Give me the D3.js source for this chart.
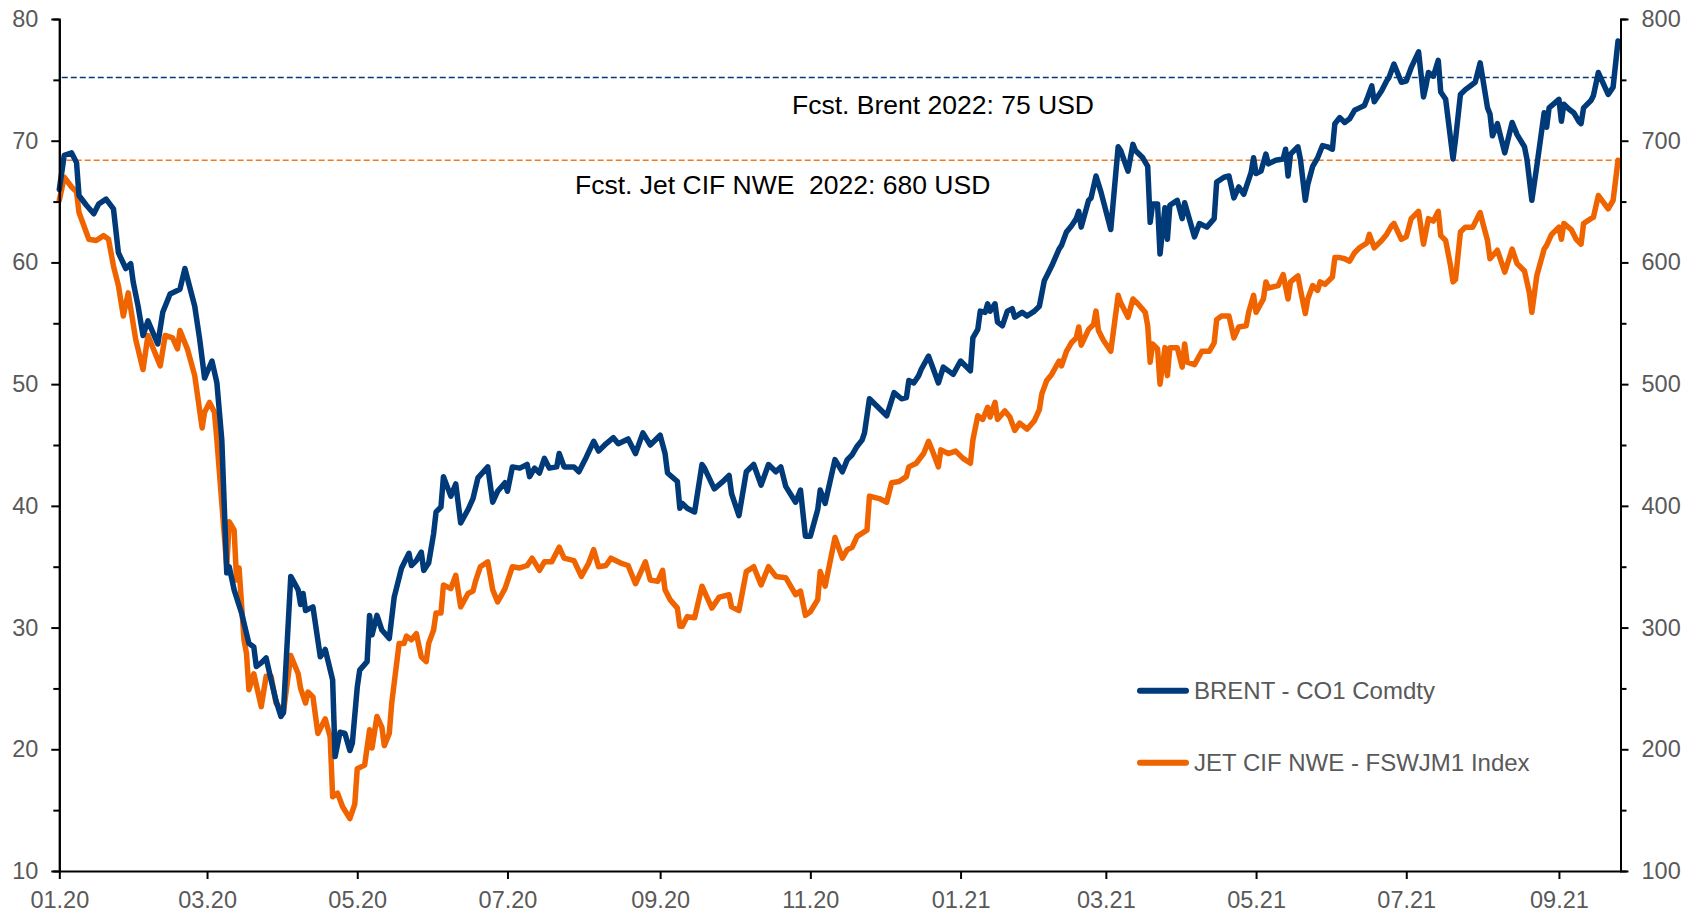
<!doctype html>
<html lang="en">
  <head>
    <meta charset="utf-8">
    <title>Brent vs Jet CIF NWE</title>
    <style>
      body { margin: 0; background: #fff; }
      svg { display: block; font-family: "Liberation Sans", Arial, sans-serif; }
    </style>
  </head>
  <body>
    <div id="chart"></div>
    <script src="https://d3js.org/d3.v7.min.js"></script>
    <script>
    // days since 1 Jan 2020, value
    var brent = [
      [0,66.0],[2,68.8],[5,69.0],[7,68.2],[8,65.5],[11,64.7],[14,64.0],[16,64.8],[19,65.2],[22,64.4],
      [24,60.8],[27,59.5],[29,59.9],[30,58.4],[32,56.4],[34,54.0],[36,55.2],[40,53.3],[42,55.9],[45,57.4],
      [49,57.8],[51,59.5],[55,56.4],[57,53.7],[59,50.5],[62,51.9],[64,50.1],[66,45.4],[68,34.5],[69,35.0],
      [71,33.1],[74,31.2],[77,28.7],[79,28.4],[80,26.8],[82,27.1],[84,27.5],[86,25.7],[88,24.0],[90,22.7],
      [91,23.0],[94,34.2],[97,33.1],[98,31.9],[99,32.8],[100,31.4],[103,31.7],[106,27.6],[108,28.2],[111,25.7],
      [112,19.4],[114,21.4],[116,21.3],[118,19.9],[119,20.5],[121,25.1],[122,26.5],[125,27.2],[126,31.0],[127,29.4],
      [129,31.0],[131,29.8],[134,29.1],[136,32.5],[139,34.9],[140,35.3],[142,36.1],[143,35.1],[145,35.5],[147,36.2],
      [148,34.7],[150,35.3],[152,37.7],[153,39.5],[155,39.9],[156,42.4],[159,40.8],[161,41.8],[163,38.6],[166,39.7],
      [168,40.6],[170,42.3],[174,43.2],[176,40.3],[178,41.2],[181,41.9],[182,41.2],[184,43.2],[187,43.1],[190,43.4],
      [191,42.4],[193,43.1],[195,42.7],[197,43.9],[199,43.1],[202,43.2],[203,44.3],[205,43.2],[209,43.2],[211,42.8],
      [214,44.0],[217,45.3],[219,44.5],[222,45.1],[225,45.6],[227,45.1],[231,45.5],[234,44.3],[237,46.0],[240,45.0],
      [244,45.8],[246,44.3],[247,42.7],[251,42.0],[252,39.8],[253,40.2],[255,39.8],[258,39.5],[261,43.4],[262,43.1],
      [266,41.4],[270,42.1],[272,42.5],[273,41.0],[276,39.2],[279,42.8],[282,43.4],[285,41.7],[288,43.4],[291,42.8],
      [293,43.2],[295,41.6],[299,40.3],[301,41.3],[303,37.5],[305,37.5],[308,39.7],[309,41.3],[311,40.2],[315,43.8],
      [318,42.8],[320,43.8],[322,44.2],[324,44.9],[326,45.4],[327,46.0],[329,48.8],[332,48.2],[336,47.4],[339,49.3],
      [342,48.8],[344,48.9],[345,50.3],[347,50.1],[349,50.7],[350,51.2],[353,52.3],[355,51.2],[357,50.1],[359,51.4],
      [363,50.8],[366,51.9],[370,51.1],[371,53.8],[373,54.5],[374,56.0],[376,55.9],[377,56.6],[378,56.0],[380,56.6],
      [381,55.1],[383,54.8],[385,56.0],[387,56.2],[388,55.5],[391,55.9],[393,55.6],[396,56.0],[398,56.4],[400,58.5],
      [403,59.7],[406,61.1],[407,61.4],[409,62.5],[411,63.0],[413,63.6],[414,64.2],[415,62.9],[418,65.1],[419,65.3],
      [421,67.1],[423,65.8],[427,62.7],[430,69.5],[431,69.2],[434,67.5],[436,69.7],[437,69.2],[440,68.6],[442,67.9],
      [443,63.3],[444,64.8],[446,64.8],[447,60.7],[449,64.5],[450,61.9],[451,64.7],[454,65.1],[456,63.6],[457,64.9],
      [461,62.1],[463,63.2],[466,62.9],[469,63.6],[470,66.6],[473,67.0],[475,67.1],[477,65.3],[479,66.2],[481,65.6],
      [484,67.4],[485,68.6],[486,67.3],[488,67.5],[490,68.9],[491,68.1],[494,68.4],[497,68.5],[498,69.3],[499,67.1],
      [500,68.9],[503,69.5],[504,68.5],[506,65.1],[507,66.4],[509,67.9],[511,68.6],[513,69.6],[515,69.5],[517,69.3],
      [518,71.4],[520,71.9],[522,71.5],[524,71.8],[526,72.5],[528,72.7],[530,72.9],[531,73.4],[533,74.5],[534,73.2],
      [537,74.1],[539,74.9],[540,75.2],[542,76.3],[545,74.8],[547,74.9],[549,76.0],[552,77.3],[554,73.6],[555,74.5],
      [556,75.6],[558,75.3],[560,76.6],[561,74.0],[563,73.4],[566,68.5],[567,70.1],[569,73.8],[571,74.2],[573,74.5],
      [575,74.8],[577,76.4],[578,75.2],[580,72.7],[581,72.2],[582,70.4],[584,71.4],[587,69.0],[590,71.5],[592,70.5],
      [595,69.5],[596,68.5],[598,65.1],[600,67.9],[603,72.3],[604,71.1],[605,72.7],[609,73.4],[610,71.6],[611,73.0],
      [613,72.6],[615,72.3],[617,71.6],[618,71.4],[619,72.7],[622,73.3],[623,73.7],[625,75.6],[629,73.8],[631,74.4],
      [633,78.2]
    ];

    // days since 1 Jan 2020, USD per tonne
    var jet = [
      [0,651],[2,670],[5,662],[7,658],[8,641],[12,619],[15,618],[18,622],[20,619],[22,597],
      [24,581],[26,556],[28,575],[31,537],[34,512],[36,540],[41,515],[43,540],[46,538],[48,529],
      [49,544],[52,529],[55,507],[58,464],[59,477],[61,485],[63,477],[64,454],[68,350],[69,387],
      [71,380],[72,339],[73,349],[75,290],[76,279],[77,249],[79,262],[82,235],[84,260],[86,260],
      [88,238],[91,230],[94,277],[97,262],[98,250],[100,238],[101,247],[103,243],[105,213],[108,225],
      [110,210],[111,161],[113,164],[115,153],[118,143],[120,155],[121,184],[124,187],[126,216],[127,201],
      [129,227],[131,218],[132,203],[134,213],[135,238],[138,287],[140,287],[141,293],[143,290],[145,295],
      [147,276],[149,272],[150,287],[152,298],[153,312],[155,312],[156,335],[159,332],[161,343],[163,317],
      [166,328],[168,330],[169,338],[171,350],[174,354],[176,331],[178,321],[181,332],[184,350],[187,349],
      [190,351],[192,357],[195,347],[197,354],[200,354],[203,366],[205,357],[209,355],[212,342],[215,353],
      [217,364],[219,350],[222,351],[224,357],[228,353],[231,351],[234,336],[238,354],[240,339],[243,338],
      [245,347],[246,331],[248,323],[251,316],[252,301],[253,301],[255,309],[258,308],[261,334],[263,325],
      [265,316],[268,325],[272,327],[273,317],[276,314],[279,346],[282,350],[285,335],[288,350],[291,342],
      [295,341],[299,327],[301,330],[303,310],[305,313],[308,323],[309,346],[311,334],[315,374],[318,357],
      [320,364],[322,366],[324,375],[328,380],[329,408],[333,406],[336,403],[338,419],[341,420],[344,424],
      [345,432],[348,435],[351,443],[353,453],[355,443],[357,432],[358,446],[361,443],[364,445],[367,439],
      [370,435],[371,454],[373,474],[375,471],[377,481],[378,473],[380,485],[381,471],[384,478],[386,473],
      [388,462],[390,468],[393,463],[396,470],[398,479],[399,492],[401,503],[403,508],[406,519],[407,515],
      [409,527],[411,534],[413,538],[414,547],[415,532],[418,545],[420,549],[421,560],[422,544],[424,536],
      [427,527],[430,573],[431,567],[434,555],[436,570],[438,566],[441,559],[442,548],[443,518],[444,533],
      [446,529],[447,500],[449,530],[450,507],[451,530],[454,530],[456,514],[457,533],[458,518],[461,516],
      [464,527],[467,527],[469,534],[470,553],[472,556],[475,556],[477,538],[479,547],[482,548],[483,559],
      [485,573],[486,559],[489,570],[490,584],[491,579],[495,581],[497,590],[499,570],[500,584],[503,589],
      [504,578],[506,558],[507,570],[509,581],[511,577],[512,584],[514,582],[517,588],[518,604],[520,604],
      [522,603],[524,601],[526,608],[528,612],[531,616],[532,623],[534,612],[537,618],[539,623],[541,630],
      [542,632],[545,619],[547,621],[549,636],[552,642],[554,615],[556,636],[558,634],[560,642],[561,622],
      [563,618],[565,597],[566,584],[567,586],[569,625],[571,629],[574,629],[577,641],[578,633],[580,618],
      [581,603],[584,610],[587,592],[590,611],[592,599],[595,593],[597,575],[598,559],[600,589],[603,611],
      [604,614],[606,623],[609,629],[610,619],[611,632],[614,627],[616,619],[618,615],[619,632],[622,636],
      [623,637],[625,655],[629,644],[631,651],[633,684]
    ];

    var seriesNames = ["BRENT - CO1 Comdty", "JET CIF NWE - FSWJM1 Index"];
    var leftTicks = [10, 20, 30, 40, 50, 60, 70, 80];
    var rightTicks = [100, 200, 300, 400, 500, 600, 700, 800];
    var monthTicks = ["2020-01-01","2020-03-01","2020-05-01","2020-07-01","2020-09-01","2020-11-01",
                      "2021-01-01","2021-03-01","2021-05-01","2021-07-01","2021-09-01"];
    // forecast labels and the level where the dashed line sits in the picture
    var brentForecast = 75, brentLine = 75.2;   // USD/bbl, left axis
    var jetForecast = 680, jetLine = 684;       // USD/t, right axis

    var width = 1699, height = 913;
    var blue = "#003A78", orange = "#F06400", grey = "#595959";

    var svg = d3.select("#chart").append("svg")
        .attr("width", width)
        .attr("height", height);

    var start = new Date(Date.UTC(2020, 0, 1));
    var day = function(n){ return d3.utcDay.offset(start, n); };

    var x = d3.scaleUtc()
        .domain([start, day(634)])
        .range([59.3, 1620.5]);
    var yL = d3.scaleLinear().domain([10, 80]).range([871, 19]);
    var yR = d3.scaleLinear().domain([100, 800]).range([871, 19]);

    // forecast lines
    svg.append("line")
      .attr("x1", x(day(1))).attr("x2", x(day(633)))
      .attr("y1", yL(brentLine)).attr("y2", yL(brentLine))
      .attr("stroke", blue).attr("stroke-width", 1.5).attr("stroke-dasharray", "6,3");
    svg.append("line")
      .attr("x1", x(day(3))).attr("x2", x(day(633)))
      .attr("y1", yR(jetLine)).attr("y2", yR(jetLine))
      .attr("stroke", "#F47A1F").attr("stroke-width", 1.5).attr("stroke-dasharray", "6,3");

    svg.append("text")
      .attr("x", 792).attr("y", 114)
      .attr("font-size", 26.5).attr("fill", "#000")
      .text("Fcst. Brent 2022: " + brentForecast + " USD");
    svg.append("text")
      .attr("x", 575).attr("y", 194)
      .attr("font-size", 26.5).attr("fill", "#000")
      .style("white-space", "pre")
      .text("Fcst. Jet CIF NWE  2022: " + jetForecast + " USD");

    // series
    var lineL = d3.line().x(function(d){ return x(day(d[0])); }).y(function(d){ return yL(d[1]); });
    var lineR = d3.line().x(function(d){ return x(day(d[0])); }).y(function(d){ return yR(d[1]); });

    svg.append("path").datum(jet)
      .attr("d", lineR)
      .attr("fill", "none").attr("stroke", orange).attr("stroke-width", 5.5)
      .attr("stroke-linejoin", "round").attr("stroke-linecap", "round");
    svg.append("path").datum(brent)
      .attr("d", lineL)
      .attr("fill", "none").attr("stroke", blue).attr("stroke-width", 5.5)
      .attr("stroke-linejoin", "round").attr("stroke-linecap", "round");

    // axes
    function styleAxis(g) {
      g.attr("font-family", null).attr("font-size", 23.5);
      g.select(".domain").attr("stroke", "#000").attr("stroke-width", 2);
      g.selectAll(".tick line").attr("stroke", "#000").attr("stroke-width", 2);
      g.selectAll(".tick text").attr("fill", grey);
    }

    svg.append("g")
      .attr("transform", "translate(59.3,0)")
      .call(d3.axisLeft(yL).tickValues([15,25,35,45,55,65,75]).tickSize(6).tickFormat(""))
      .call(styleAxis);
    svg.append("g")
      .attr("transform", "translate(59.3,0)")
      .call(d3.axisLeft(yL).tickValues(leftTicks).tickSize(8).tickSizeOuter(0).tickPadding(13))
      .call(styleAxis);

    svg.append("g")
      .attr("transform", "translate(1620.5,0)")
      .call(d3.axisRight(yR).tickValues([150,250,350,450,550,650,750]).tickSize(6).tickFormat(""))
      .call(styleAxis);
    svg.append("g")
      .attr("transform", "translate(1620.5,0)")
      .call(d3.axisRight(yR).tickValues(rightTicks).tickSize(8).tickSizeOuter(0).tickPadding(13))
      .call(styleAxis);

    svg.append("g")
      .attr("transform", "translate(0,871)")
      .call(d3.axisBottom(x)
        .tickValues(monthTicks.map(function(s){ return new Date(s + "T00:00:00Z"); }))
        .tickFormat(d3.utcFormat("%m.%y"))
        .tickSize(8).tickSizeOuter(0).tickPadding(12.5))
      .call(styleAxis);

    // legend
    var legend = svg.append("g");
    [blue, orange].forEach(function(c, i){
      var ly = 690.7 + i * 72;
      legend.append("line")
        .attr("x1", 1140).attr("x2", 1186).attr("y1", ly).attr("y2", ly)
        .attr("stroke", c).attr("stroke-width", 6).attr("stroke-linecap", "round");
      legend.append("text")
        .attr("x", 1194).attr("y", ly + 8)
        .attr("font-size", 24).attr("fill", grey)
        .text(seriesNames[i]);
    });
    </script>
  </body>
</html>
